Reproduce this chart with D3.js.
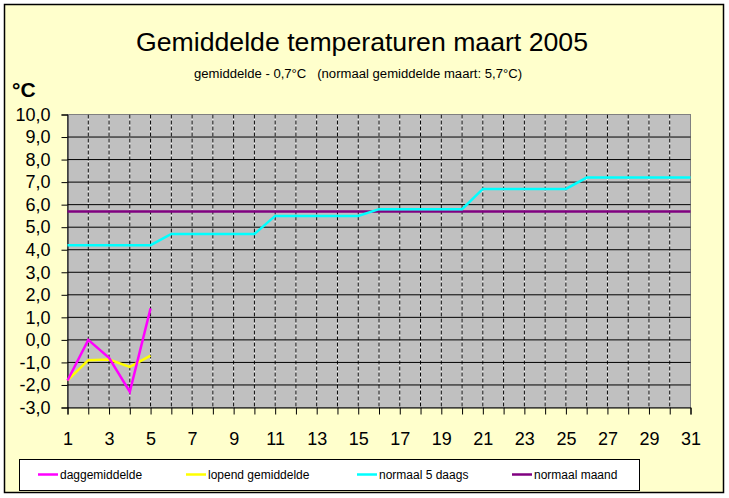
<!DOCTYPE html>
<html>
<head>
<meta charset="utf-8">
<script src="https://cdn.jsdelivr.net/npm/d3@7"></script>
<style>
  body { margin: 0; background: #fff; }
  svg text { font-family: "Comic Sans MS", "Liberation Sans", "DejaVu Sans", sans-serif; }
</style>
</head>
<body>
<div id="chart"></div>
<script>
// days of maart 2005
const days = d3.range(1, 32);
const dayTicks = d3.range(1, 32, 2);
const yTicks = d3.range(-3, 11, 1);

// measured so far (first 5 days)
const daggemiddelde = [-1.8, 0.0, -0.8, -2.3, 1.4];
const lopendGemiddelde = [-1.8, -0.9, -0.87, -1.2, -0.7];
// normals
const normaal5daags = [4.2, 4.2, 4.2, 4.2, 4.2, 4.7, 4.7, 4.7, 4.7, 4.7,
  5.5, 5.5, 5.5, 5.5, 5.5, 5.8, 5.8, 5.8, 5.8, 5.8,
  6.7, 6.7, 6.7, 6.7, 6.7, 7.2, 7.2, 7.2, 7.2, 7.2, 7.2];
const normaalMaand = days.map(() => 5.7);

const seriesNames = ["daggemiddelde", "lopend gemiddelde", "normaal 5 daags", "normaal maand"];
const seriesColors = ["#ff00ff", "#ffff00", "#00ffff", "#800080"];
const seriesData = [daggemiddelde, lopendGemiddelde, normaal5daags, normaalMaand];

const W = 729, H = 498;
const svg = d3.select("#chart").append("svg").attr("width", W).attr("height", H);

// chart background + border
svg.append("rect").attr("x", 4.5).attr("y", 4.5).attr("width", 719).attr("height", 488)
  .attr("fill", "#ffffcc").attr("stroke", "#000").attr("stroke-width", 1.5);

const x = d3.scaleLinear().domain([1, 31]).range([67.5, 690.5]);
const y = d3.scaleLinear().domain([-3, 10]).range([407.5, 114.5]);

// plot area
svg.append("rect").attr("x", x(1)).attr("y", y(10)).attr("width", x(31) - x(1)).attr("height", y(-3) - y(10))
  .attr("fill", "#c0c0c0").attr("stroke", "#808080").attr("stroke-width", 1);

// vertical dashed grid (white under black dashes)
const vg = svg.append("g");
days.slice(1, -1).forEach(d => {
  vg.append("line").attr("x1", x(d)).attr("x2", x(d)).attr("y1", y(10)).attr("y2", y(-3))
    .attr("stroke", "#fff").attr("stroke-width", 1);
  vg.append("line").attr("x1", x(d)).attr("x2", x(d)).attr("y1", y(10)).attr("y2", y(-3))
    .attr("stroke", "#000").attr("stroke-width", 1).attr("stroke-dasharray", "4,2");
});

// horizontal grid
svg.append("g").selectAll("line").data(yTicks.slice(1, -1)).join("line")
  .attr("x1", x(1)).attr("x2", x(31)).attr("y1", d => y(d)).attr("y2", d => y(d))
  .attr("stroke", "#000").attr("stroke-width", 1);

// y axis
const fmt = v => d3.format(".1f")(v).replace(".", ",").replace("−", "-");
const yAxis = svg.append("g").attr("transform", `translate(${x(1)},0)`)
  .call(d3.axisLeft(y).tickValues(yTicks).tickSize(6).tickPadding(11).tickFormat(fmt));
yAxis.select(".domain").attr("stroke", "#000");
yAxis.selectAll("text").attr("font-size", 18).attr("fill", "#000");

// x axis
const xAxis = svg.append("g").attr("transform", `translate(0,${y(-3)})`)
  .call(d3.axisBottom(x).tickValues(days).tickSize(7).tickFormat(d => dayTicks.includes(d) ? d : ""));
xAxis.select(".domain").attr("stroke", "#000");
xAxis.selectAll("text").attr("font-size", 18).attr("fill", "#000").attr("dy", "1.55em");

// series
const line = d3.line().x((d, i) => x(i + 1)).y(d => y(d));
[3, 2, 1, 0].forEach(k => {
  svg.append("path").datum(seriesData[k]).attr("d", line)
    .attr("fill", "none").attr("stroke", seriesColors[k]).attr("stroke-width", 2.5);
});

// titles
svg.append("text").attr("x", 362).attr("y", 51).attr("text-anchor", "middle")
  .attr("font-size", 25).attr("textLength", 452).attr("lengthAdjust", "spacingAndGlyphs")
  .text("Gemiddelde temperaturen maart 2005");
svg.append("text").attr("x", 358).attr("y", 78).attr("text-anchor", "middle")
  .attr("font-size", 12).attr("textLength", 328).attr("lengthAdjust", "spacingAndGlyphs")
  .attr("xml:space", "preserve")
  .text("gemiddelde - 0,7°C   (normaal gemiddelde maart: 5,7°C)");
svg.append("text").attr("x", 12).attr("y", 97).attr("font-size", 21).attr("font-weight", "bold")
  .text("°C");

// legend
svg.append("rect").attr("x", 19.5).attr("y", 459.5).attr("width", 620).attr("height", 31)
  .attr("fill", "#fff").attr("stroke", "#000").attr("stroke-width", 1);
const legX = [38, 186, 357, 512];
seriesNames.forEach((n, i) => {
  svg.append("line").attr("x1", legX[i]).attr("x2", legX[i] + 20).attr("y1", 474.5).attr("y2", 474.5)
    .attr("stroke", seriesColors[i]).attr("stroke-width", 2.5);
  svg.append("text").attr("x", legX[i] + 22).attr("y", 479).attr("font-size", 12).text(n);
});
</script>
</body>
</html>
